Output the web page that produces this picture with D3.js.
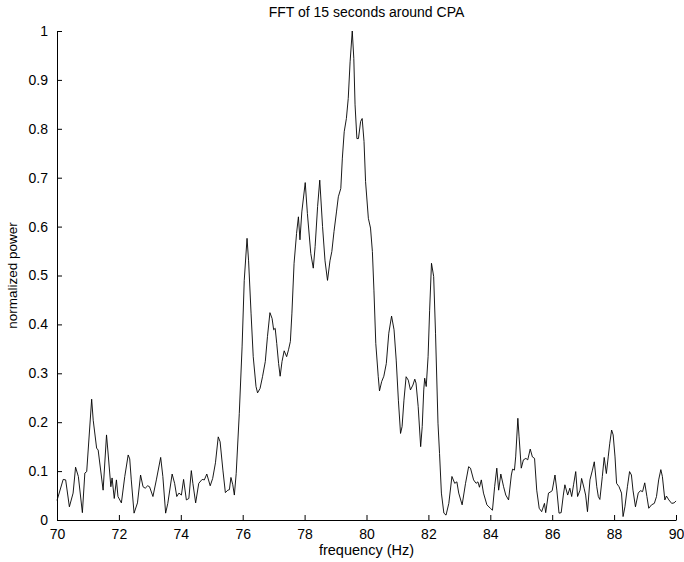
<!DOCTYPE html>
<html>
<head>
<meta charset="utf-8">
<script src="https://cdn.jsdelivr.net/npm/d3@7"></script>
<style>
  body { margin: 0; background: #fff; }
  svg text { font-family: "Liberation Sans", Arial, sans-serif; fill: #000; }
</style>
</head>
<body>
<div id="chart"></div>
<script>
// ---------------------------- data ----------------------------
const freq = [
  70.00, 70.20, 70.28, 70.40, 70.52, 70.60, 70.69, 70.82, 70.90, 70.96,
  71.12, 71.17, 71.28, 71.33, 71.49, 71.60, 71.65, 71.74, 71.78, 71.85,
  71.92, 71.97, 72.08, 72.19, 72.30, 72.35, 72.40, 72.49, 72.60, 72.70,
  72.78, 72.85, 72.93, 72.99, 73.10, 73.21, 73.35, 73.42, 73.51, 73.58,
  73.72, 73.80, 73.87, 73.94, 74.02, 74.09, 74.18, 74.26, 74.34, 74.39,
  74.48, 74.58, 74.69, 74.76, 74.84, 74.95, 75.03, 75.12, 75.21, 75.27,
  75.36, 75.44, 75.52, 75.57, 75.62, 75.68, 75.73, 75.79, 75.89, 75.98,
  76.05, 76.14, 76.19, 76.27, 76.34, 76.43, 76.48, 76.56, 76.64, 76.73,
  76.80, 76.88, 76.95, 77.00, 77.05, 77.10, 77.16, 77.21, 77.27, 77.34,
  77.42, 77.48, 77.54, 77.59, 77.66, 77.74, 77.80, 77.85, 77.91, 78.02,
  78.09, 78.20, 78.28, 78.34, 78.42, 78.49, 78.58, 78.66, 78.74, 78.82,
  78.88, 78.95, 79.03, 79.09, 79.17, 79.22, 79.28, 79.35, 79.41, 79.47,
  79.54, 79.59, 79.63, 79.69, 79.74, 79.81, 79.86, 79.92, 79.97, 80.06,
  80.13, 80.19, 80.24, 80.30, 80.38, 80.42, 80.49, 80.56, 80.64, 80.72,
  80.81, 80.89, 80.96, 81.03, 81.10, 81.15, 81.21, 81.28, 81.35, 81.42,
  81.50, 81.56, 81.60, 81.67, 81.75, 81.80, 81.85, 81.88, 81.93, 81.99,
  82.04, 82.10, 82.17, 82.23, 82.31, 82.36, 82.42, 82.50, 82.57, 82.66,
  82.76, 82.85, 82.92, 82.98, 83.09, 83.20, 83.30, 83.36, 83.46, 83.54,
  83.60, 83.65, 83.71, 83.78, 83.89, 84.00, 84.07, 84.14, 84.21, 84.27,
  84.34, 84.43, 84.50, 84.59, 84.68, 84.72, 84.78, 84.82, 84.89, 84.93,
  85.00, 85.07, 85.15, 85.21, 85.29, 85.36, 85.43, 85.50, 85.58, 85.66,
  85.75, 85.79, 85.88, 85.96, 86.00, 86.09, 86.15, 86.22, 86.29, 86.36,
  86.41, 86.50, 86.57, 86.63, 86.69, 86.76, 86.82, 86.90, 86.95, 87.03,
  87.08, 87.14, 87.22, 87.30, 87.36, 87.44, 87.49, 87.54, 87.62, 87.68,
  87.75, 87.81, 87.86, 87.92, 87.97, 88.03, 88.08, 88.16, 88.24, 88.29,
  88.35, 88.43, 88.50, 88.56, 88.61, 88.69, 88.78, 88.85, 88.92, 88.99,
  89.06, 89.12, 89.21, 89.30, 89.37, 89.44, 89.51, 89.56, 89.64, 89.69,
  89.77, 89.86, 89.94, 90.00
];
const power = [
  0.040, 0.083, 0.082, 0.027, 0.055, 0.108, 0.089, 0.015, 0.096, 0.099,
  0.247, 0.204, 0.147, 0.143, 0.061, 0.174, 0.137, 0.068, 0.086, 0.044,
  0.082, 0.048, 0.035, 0.089, 0.133, 0.125, 0.082, 0.014, 0.035, 0.092,
  0.068, 0.065, 0.070, 0.068, 0.048, 0.082, 0.128, 0.089, 0.014, 0.034,
  0.094, 0.075, 0.048, 0.055, 0.051, 0.083, 0.041, 0.044, 0.101, 0.075,
  0.035, 0.075, 0.083, 0.082, 0.094, 0.070, 0.085, 0.117, 0.170, 0.160,
  0.102, 0.056, 0.061, 0.062, 0.087, 0.072, 0.051, 0.095, 0.218, 0.354,
  0.490, 0.576, 0.530, 0.423, 0.334, 0.273, 0.260, 0.269, 0.293, 0.324,
  0.375, 0.424, 0.412, 0.389, 0.392, 0.361, 0.320, 0.294, 0.324, 0.346,
  0.334, 0.348, 0.365, 0.423, 0.525, 0.586, 0.620, 0.573, 0.630, 0.690,
  0.627, 0.545, 0.515, 0.559, 0.641, 0.695, 0.600, 0.530, 0.490, 0.530,
  0.549, 0.590, 0.630, 0.661, 0.678, 0.740, 0.794, 0.821, 0.862, 0.937,
  1.000, 0.944, 0.849, 0.780, 0.780, 0.815, 0.821, 0.774, 0.692, 0.617,
  0.597, 0.549, 0.470, 0.361, 0.293, 0.264, 0.283, 0.294, 0.320, 0.382,
  0.417, 0.389, 0.327, 0.245, 0.177, 0.191, 0.245, 0.293, 0.286, 0.266,
  0.276, 0.288, 0.280, 0.232, 0.150, 0.191, 0.266, 0.290, 0.273, 0.334,
  0.429, 0.525, 0.498, 0.382, 0.198, 0.136, 0.055, 0.014, 0.010, 0.034,
  0.089, 0.075, 0.078, 0.055, 0.031, 0.075, 0.109, 0.106, 0.082, 0.075,
  0.078, 0.067, 0.082, 0.055, 0.031, 0.024, 0.020, 0.068, 0.106, 0.061,
  0.094, 0.068, 0.051, 0.041, 0.092, 0.104, 0.102, 0.129, 0.208, 0.170,
  0.106, 0.123, 0.126, 0.123, 0.145, 0.129, 0.126, 0.061, 0.024, 0.017,
  0.034, 0.015, 0.055, 0.058, 0.060, 0.092, 0.061, 0.014, 0.015, 0.051,
  0.072, 0.051, 0.065, 0.048, 0.072, 0.099, 0.048, 0.061, 0.085, 0.065,
  0.051, 0.017, 0.082, 0.102, 0.119, 0.068, 0.048, 0.042, 0.089, 0.128,
  0.095, 0.129, 0.157, 0.184, 0.174, 0.129, 0.075, 0.068, 0.055, 0.007,
  0.027, 0.068, 0.099, 0.092, 0.061, 0.027, 0.055, 0.060, 0.058, 0.076,
  0.048, 0.024, 0.031, 0.034, 0.048, 0.082, 0.103, 0.089, 0.041, 0.049,
  0.041, 0.034, 0.035, 0.039
];
const xTicks = [70, 72, 74, 76, 78, 80, 82, 84, 86, 88, 90];
const yTicks = [0, 0.1, 0.2, 0.3, 0.4, 0.5, 0.6, 0.7, 0.8, 0.9, 1];

const TITLE = "FFT of 15 seconds around CPA";
const X_LABEL = "frequency (Hz)";
const Y_LABEL = "normalized power";

// ---------------------------- layout ----------------------------
const WIDTH = 684, HEIGHT = 562;
const margin = {top: 31, right: 8, bottom: 42, left: 57};
const innerW = WIDTH - margin.left - margin.right;
const innerH = HEIGHT - margin.top - margin.bottom;

const svg = d3.select("#chart")
    .append("svg")
    .attr("width", WIDTH)
    .attr("height", HEIGHT);

const g = svg.append("g")
    .attr("transform", `translate(${margin.left},${margin.top})`);

const x = d3.scaleLinear().domain([70, 90]).range([0, innerW]);
const y = d3.scaleLinear().domain([0, 1]).range([innerH, 0]);

// ---------------------------- axes (ticks pointing inward) ----------------------------
const xAxis = d3.axisBottom(x)
    .tickValues(xTicks)
    .tickSizeInner(-5)
    .tickSizeOuter(0)
    .tickPadding(9)
    .tickFormat(d3.format("d"));

const yAxis = d3.axisLeft(y)
    .tickValues(yTicks)
    .tickSizeInner(-5)
    .tickSizeOuter(0)
    .tickPadding(9)
    .tickFormat(d => d === 0 ? "0" : d === 1 ? "1" : d3.format(".1f")(d));

const gx = g.append("g")
    .attr("transform", `translate(0,${innerH})`)
    .call(xAxis);
const gy = g.append("g").call(yAxis);

[gx, gy].forEach(ax => {
    ax.selectAll(".domain").attr("stroke", "#000").attr("stroke-width", 1);
    ax.selectAll(".tick line").attr("stroke", "#000").attr("stroke-width", 1);
    ax.selectAll(".tick text")
        .style("font-family", "Liberation Sans, Arial, sans-serif")
        .style("font-size", "14px")
        .attr("fill", "#000");
});

// ---------------------------- spectrum line ----------------------------
const line = d3.line()
    .x((d, i) => x(freq[i]))
    .y(d => y(d));

g.append("path")
    .datum(power)
    .attr("fill", "none")
    .attr("stroke", "#000")
    .attr("stroke-width", 0.9)
    .attr("stroke-linejoin", "round")
    .attr("d", line);

// ---------------------------- labels ----------------------------
svg.append("text")
    .attr("x", margin.left + innerW / 2)
    .attr("y", 17)
    .attr("text-anchor", "middle")
    .style("font-size", "14px")
    .text(TITLE);

svg.append("text")
    .attr("x", margin.left + innerW / 2)
    .attr("y", 555)
    .attr("text-anchor", "middle")
    .style("font-size", "14.5px")
    .text(X_LABEL);

svg.append("text")
    .attr("transform", `translate(17,${margin.top + innerH / 2}) rotate(-90)`)
    .attr("text-anchor", "middle")
    .style("font-size", "13.5px")
    .text(Y_LABEL);
</script>
</body>
</html>
